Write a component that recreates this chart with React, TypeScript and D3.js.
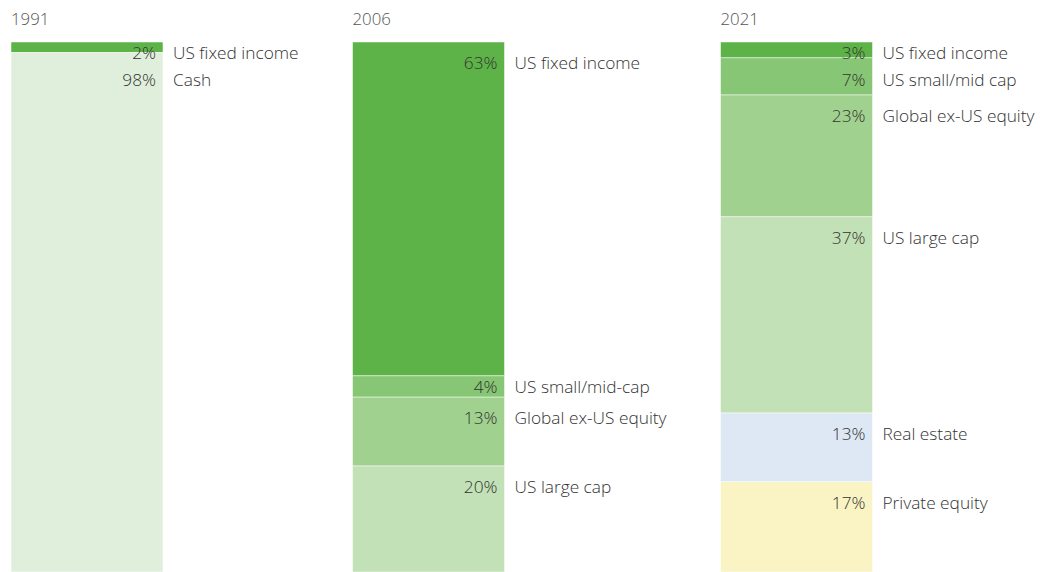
import React, { useRef, useEffect } from 'react';
import * as d3 from 'd3';

// Data
const years = ['1991', '2006', '2021'];
const categories1991 = ['US fixed income', 'Cash'];
const values1991 = [2, 98];
const categories2006 = ['US fixed income', 'US small/mid-cap', 'Global ex-US equity', 'US large cap'];
const values2006 = [63, 4, 13, 20];
const categories2021 = ['US fixed income', 'US small/mid cap', 'Global ex-US equity', 'US large cap', 'Real estate', 'Private equity'];
const values2021 = [3, 7, 23, 37, 13, 17];

const colorKeys1991 = ['fixed', 'cash'];
const colorKeys2006 = ['fixed', 'small', 'global', 'large'];
const colorKeys2021 = ['fixed', 'small', 'global', 'large', 'realestate', 'pe'];

const App = () => {
  const svgRef = useRef<SVGSVGElement | null>(null);

  useEffect(() => {
    const width = 1040;
    const height = 572;
    const margin = { top: 42, bottom: 0, left: 11 };
    const barWidth = 152;
    const labelGap = 10;
    const columnGap = 54;

    const color = d3.scaleOrdinal<string, string>()
      .domain(['fixed', 'small', 'global', 'large', 'cash', 'realestate', 'pe'])
      .range(['#5db347', '#87c674', '#a1d18f', '#c2e1b6', '#e0efdc', '#dee8f4', '#faf4c4']);

    const y = d3.scaleLinear()
      .domain([0, 100])
      .range([margin.top, height - margin.bottom]);

    const groups = [
      { year: years[0], cats: categories1991, vals: values1991, keys: colorKeys1991 },
      { year: years[1], cats: categories2006, vals: values2006, keys: colorKeys2006 },
      { year: years[2], cats: categories2021, vals: values2021, keys: colorKeys2021 },
    ];

    const svg = d3.select(svgRef.current)
      .attr('width', width)
      .attr('height', height);

    svg.selectAll('*').remove();

    const font = '"Open Sans", Lato, sans-serif';
    const fontSize = 17.3;
    let xPos = margin.left;

    groups.forEach(g => {
      const gEl = svg.append('g').attr('transform', `translate(${xPos},0)`);

      // stack
      const starts = d3.cumsum([0, ...g.vals]);
      const segs = g.vals.map((v, i) => ({ v, cat: g.cats[i], key: g.keys[i], s: starts[i], e: starts[i + 1] }));

      gEl.selectAll('rect')
        .data(segs)
        .enter()
        .append('rect')
        .attr('x', 0)
        .attr('width', barWidth)
        .attr('y', d => y(d.s))
        .attr('height', d => y(d.e) - y(d.s))
        .attr('fill', d => color(d.key))
        .attr('stroke', '#fff')
        .attr('stroke-width', 0.5);

      // year title
      gEl.append('text')
        .attr('x', 0)
        .attr('y', 25)
        .attr('font-family', font)
        .attr('font-weight', 300)
        .attr('font-size', 16.8)
        .attr('fill', '#555')
        .text(g.year);

      // label positions with simple collision avoidance
      let prev = -Infinity;
      const labelY = segs.map(d => {
        const h = y(d.e) - y(d.s);
        let cy = y(d.s) + Math.max(11, Math.min(h / 2, 21));
        cy = Math.max(cy, prev + 27);
        prev = cy;
        return cy;
      });

      gEl.selectAll('text.pct')
        .data(segs)
        .enter()
        .append('text')
        .attr('class', 'pct')
        .attr('x', barWidth - 7)
        .attr('y', (d, i) => labelY[i])
        .attr('dy', '0.35em')
        .attr('text-anchor', 'end')
        .attr('font-family', font)
        .attr('font-weight', 300)
        .attr('font-size', fontSize)
        .attr('fill', '#333')
        .text(d => `${d.v}%`);

      const names = gEl.selectAll('text.cat')
        .data(segs)
        .enter()
        .append('text')
        .attr('class', 'cat')
        .attr('x', barWidth + labelGap)
        .attr('y', (d, i) => labelY[i])
        .attr('dy', '0.35em')
        .attr('font-family', font)
        .attr('font-weight', 300)
        .attr('font-size', fontSize)
        .attr('fill', '#333')
        .text(d => d.cat);

      let maxW = 0;
      names.each(function () {
        maxW = Math.max(maxW, (this as SVGTextElement).getComputedTextLength());
      });
      xPos += barWidth + labelGap + maxW + columnGap;
    });
  }, []);

  return (
    <svg ref={svgRef} style={{ position: 'absolute', left: 0, top: 0, display: 'block', background: '#fff' }}></svg>
  );
};

export default App;
